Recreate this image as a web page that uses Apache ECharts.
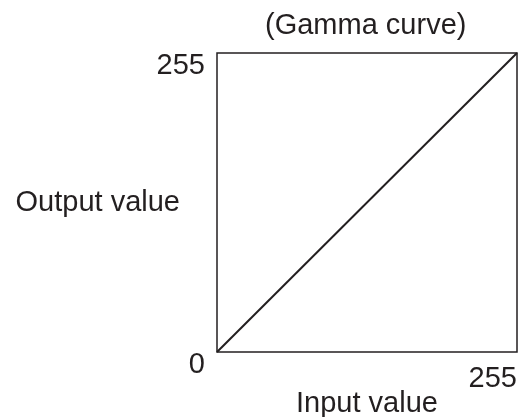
<!DOCTYPE html>
<html>
<head>
<meta charset="utf-8">
<script src="https://cdn.jsdelivr.net/npm/echarts@6/dist/echarts.min.js"></script>
<style>
	html, body { margin: 0; padding: 0; background: #fff; }
	#chart { width: 522px; height: 417px; }
</style>
</head>
<body>
<div id="chart"></div>
<script>
var inputValues = [0, 255];
var outputValues = [0, 255];
var axisMin = 0;
var axisMax = 255;

var points = [];
for (var i = 0; i < inputValues.length; i++) {
	points.push([inputValues[i], outputValues[i]]);
}

var textColor = '#231f20';
var fontFamily = '"Liberation Sans", Arial, sans-serif';

var option = {
	backgroundColor: '#fff',
	animation: false,
	title: {
		text: '(Gamma curve)',
		left: 260,
		top: 6,
		textStyle: {
			color: textColor,
			fontFamily: fontFamily,
			fontSize: 29,
			fontWeight: 'normal'
		}
	},
	grid: {
		left: 217,
		right: 5,
		top: 53,
		bottom: 65,
		show: true,
		borderColor: '#231f20',
		borderWidth: 1.5,
		outerBoundsMode: 'none',
		containLabel: false
	},
	xAxis: {
		type: 'value',
		min: axisMin,
		max: axisMax,
		interval: 255,
		name: 'Input value',
		nameLocation: 'middle',
		nameGap: 37,
		nameMoveOverlap: false,
		nameTextStyle: {
			color: textColor,
			fontFamily: fontFamily,
			fontSize: 29
		},
		axisLine: { show: false },
		axisTick: { show: false },
		splitLine: { show: false },
		axisLabel: {
			showMinLabel: false,
			color: textColor,
			fontFamily: fontFamily,
			fontSize: 29,
			align: 'right',
			margin: 12
		}
	},
	yAxis: {
		type: 'value',
		min: axisMin,
		max: axisMax,
		interval: 255,
		name: 'Output value',
		nameLocation: 'middle',
		nameRotate: 0,
		nameGap: 37,
		nameMoveOverlap: false,
		nameTextStyle: {
			color: textColor,
			fontFamily: fontFamily,
			fontSize: 29
		},
		axisLine: { show: false },
		axisTick: { show: false },
		splitLine: { show: false },
		axisLabel: {
			color: textColor,
			fontFamily: fontFamily,
			fontSize: 29,
			margin: 12,
			verticalAlign: 'top',
			lineHeight: 26
		}
	},
	series: [
		{
			type: 'line',
			data: points,
			symbol: 'none',
			lineStyle: { color: '#231f20', width: 2 }
		}
	]
};

var myChart = echarts.init(document.getElementById('chart'));
myChart.setOption(option);
</script>
</body>
</html>
